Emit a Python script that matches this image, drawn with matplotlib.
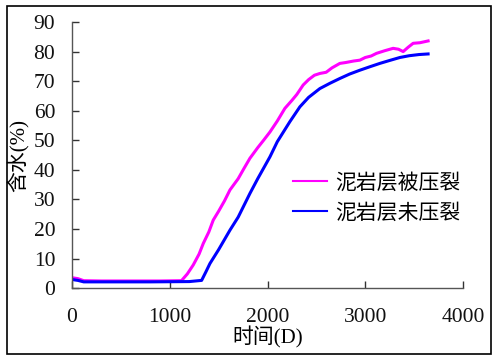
import matplotlib
matplotlib.use('Agg')
import matplotlib.pyplot as plt
from matplotlib.patches import Rectangle

# time (days) and water cut (%)
t_frac = [0, 60, 120, 300, 600, 900, 1120, 1180, 1240, 1300, 1343, 1400, 1445,
          1500, 1560, 1616, 1700, 1760, 1820, 1900, 1960, 2025, 2100, 2178,
          2250, 2300, 2365, 2420, 2480, 2536, 2600, 2660, 2740, 2800, 2880,
          2945, 3000, 3060, 3115, 3200, 3285, 3340, 3388, 3440, 3490, 3560, 3643]
wc_frac = [3.5, 3.2, 2.5, 2.4, 2.4, 2.4, 2.5, 4.8, 7.8, 11.5, 15.1, 19, 23,
           26, 29.5, 33.2, 37, 40.5, 43.9, 47.5, 50, 52.8, 56.5, 60.8,
           63.5, 65.5, 68.7, 70.5, 72, 72.6, 73, 74.5, 76, 76.3, 76.8,
           77.1, 78, 78.5, 79.4, 80.3, 81.1, 80.8, 80, 81.5, 82.8, 83, 83.6]

t_nofrac = [0, 60, 120, 400, 800, 1200, 1326, 1370, 1411, 1500, 1616, 1700,
            1820, 1900, 2025, 2100, 2229, 2331, 2420, 2536, 2640, 2740, 2840,
            2945, 3050, 3149, 3250, 3354, 3450, 3550, 3643]
wc_nofrac = [2.9, 2.6, 2.1, 2.1, 2.1, 2.2, 2.6, 5.5, 8.3, 13, 19.6, 24,
             32, 37, 44.4, 49.5, 56.3, 61.3, 64.5, 67.5, 69.3, 70.9, 72.4,
             73.7, 74.9, 76, 77, 78, 78.6, 79, 79.2]

labels = ["泥岩层被压裂", "泥岩层未压裂"]
fonts = ['Liberation Serif', 'Noto Sans CJK SC']

fig = plt.figure(figsize=(5.0, 3.61), dpi=100, facecolor="white")
ax = fig.add_axes([0.144, 0.202, 0.782, 0.737])

ax.plot(t_frac, wc_frac, color="#FF00FF", linewidth=2.2, label=labels[0])
ax.plot(t_nofrac, wc_nofrac, color="#0000FF", linewidth=2.2, label=labels[1])

ax.set_xlim(0, 4000)
ax.set_ylim(0, 90)
ax.set_xticks([0, 1000, 2000, 3000, 4000])
ax.set_yticks(range(0, 91, 10))

for side in ("top", "right"):
    ax.spines[side].set_visible(False)
for side in ("left", "bottom"):
    ax.spines[side].set_color("#555555")
    ax.spines[side].set_linewidth(1.0)

ax.tick_params(direction="in", length=5, width=1, color="#333333")
ax.tick_params(axis="y", pad=12)
ax.tick_params(axis="x", pad=14)
for lab in ax.get_xticklabels() + ax.get_yticklabels():
    lab.set_family(fonts)
    lab.set_fontsize(15.5)
    lab.set_color("#111111")

ax.set_xlabel("时间(D)", family=fonts, fontsize=15, labelpad=0)
ax.set_ylabel("含水(%)", family=fonts, fontsize=15, labelpad=0)
ax.yaxis.set_label_coords(-0.112, 0.5)

leg = ax.legend(loc="upper left", bbox_to_anchor=(0.518, 0.5), frameon=False,
                prop={"family": fonts, "size": 15}, handlelength=1.6,
                handletextpad=0.4, labelspacing=0.5)
for h in leg.get_lines():
    h.set_linewidth(1.5)

# outer frame around the whole picture
fig.patches.append(Rectangle((7 / 500, 1 - 354 / 361), 484 / 500, 348 / 361,
                             transform=fig.transFigure, fill=False,
                             edgecolor="black", linewidth=1.2))

fig.savefig("out.png", dpi=100, facecolor=fig.get_facecolor())
